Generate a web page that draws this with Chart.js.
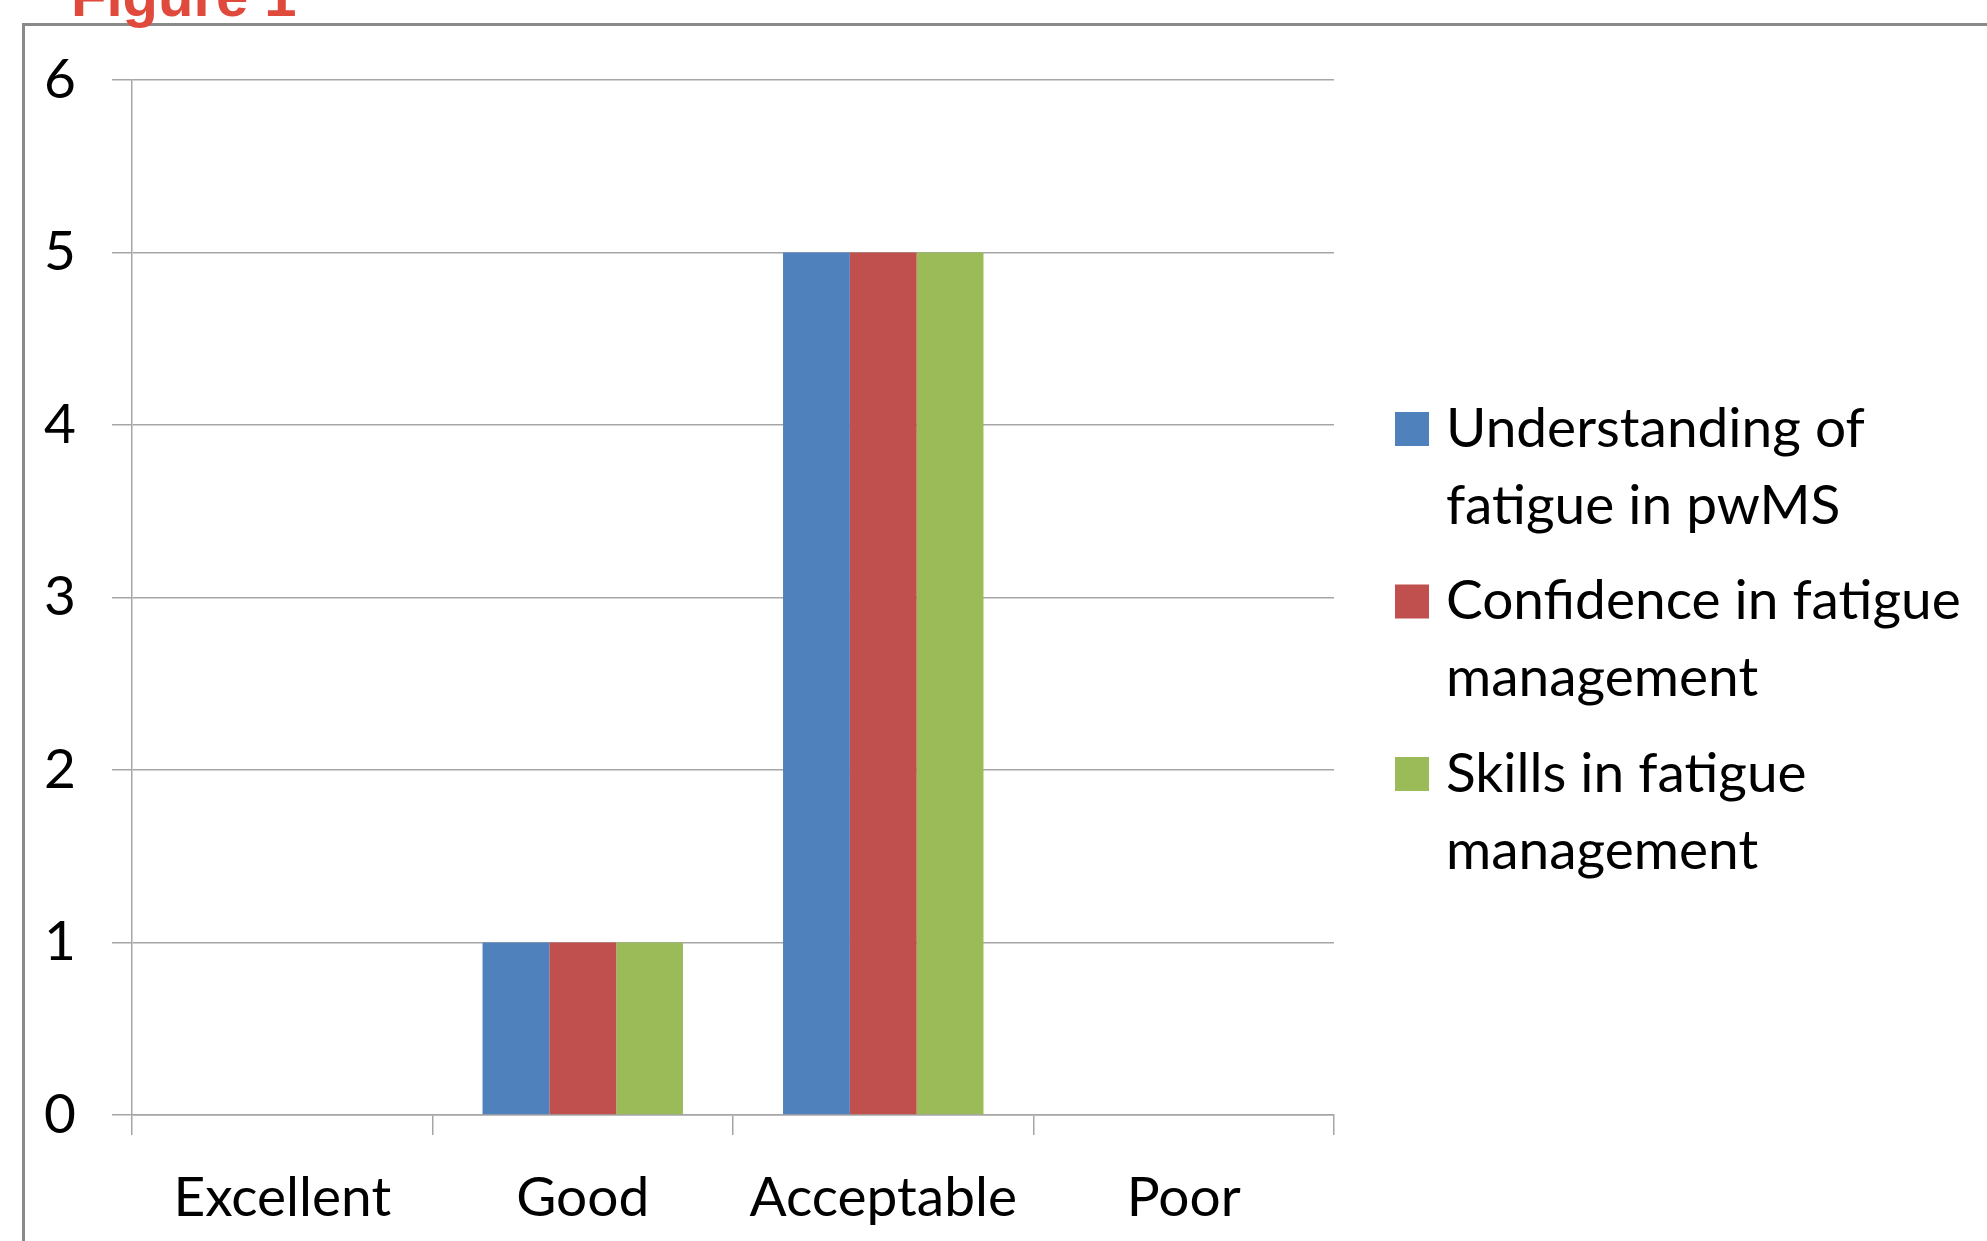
<!DOCTYPE html>
<html>
<head>
<meta charset="utf-8">
<script src="https://cdn.jsdelivr.net/npm/chart.js@4/dist/chart.umd.min.js"></script>
<style>
    html, body { margin: 0; padding: 0; background: #fff; overflow: hidden; }
    #wrap { position: relative; width: 1987px; height: 1241px; }
    #frame {
        position: absolute; left: 22px; top: 23px; width: 2100px; height: 1400px;
        border-top: 3px solid #8a8a8a; border-left: 3px solid #8a8a8a;
    }
    #fig {
        position: absolute; left: 71px; top: -38px;
        font: bold 58px "Liberation Sans", Arial, sans-serif; color: #e04a3d;
        white-space: nowrap;
    }
    canvas { position: absolute; left: 0; top: 0; }
</style>
</head>
<body>
<div id="wrap">
    <div id="frame"></div>
    <div id="fig">Figure 1</div>
    <canvas id="graph" width="1987" height="1241"></canvas>
</div>
<script>
    // ratings per category
    const categories = ['Excellent', 'Good', 'Acceptable', 'Poor'];

    const understanding = [0, 1, 5, 0];
    const confidence = [0, 1, 5, 0];
    const skills = [0, 1, 5, 0];

    const yTicks = [0, 1, 2, 3, 4, 5, 6];

    // legend text is wrapped over two lines like in the original
    const legendLines = [
        ['Understanding of', 'fatigue in pwMS'],
        ['Confidence in fatigue', 'management'],
        ['Skills in fatigue', 'management']
    ];

    const colors = ['#4f81bd', '#c0504d', '#9bbb59'];
    const font = 'Lato, "Open Sans", sans-serif';
    const fontSize = 55;
    const gridColor = '#a6a6a6';

    // draws the wrapped legend to the right of the plot
    const sideLegend = {
        id: 'sideLegend',
        afterDraw(chart) {
            const ctx = chart.ctx;
            ctx.save();
            ctx.font = fontSize + 'px ' + font;
            ctx.textBaseline = 'middle';
            ctx.textAlign = 'left';
            chart.data.datasets.forEach(function (ds, i) {
                let top = 412 + i * 172.5;
                ctx.fillStyle = ds.backgroundColor;
                ctx.fillRect(1395, top, 34, 34);
                ctx.fillStyle = '#000';
                ds.lines.forEach(function (line, j) {
                    ctx.fillText(line, 1446, top + 17 + j * 77);
                });
            });
            ctx.restore();
        }
    };

    const series = [understanding, confidence, skills];

    let chart = new Chart(document.getElementById('graph').getContext('2d'), {
        type: 'bar',
        data: {
            labels: categories,
            datasets: series.map(function (values, i) {
                return {
                    label: legendLines[i].join(' '),
                    lines: legendLines[i],
                    data: values,
                    backgroundColor: colors[i],
                    borderWidth: 0,
                    categoryPercentage: 0.667,
                    barPercentage: 1
                };
            })
        },
        options: {
            responsive: false,
            animation: false,
            layout: {padding: {left: 0, top: 80, right: 653, bottom: 0}},
            plugins: {
                legend: {display: false},
                tooltip: {enabled: false}
            },
            scales: {
                x: {
                    grid: {display: true, drawOnChartArea: false, drawTicks: true, tickLength: 20, color: gridColor, lineWidth: 1.5, offset: true},
                    border: {display: true, color: gridColor, width: 1.5},
                    ticks: {color: '#000', font: {family: font, size: fontSize}, padding: 30, maxRotation: 0},
                    afterFit: function (scale) { scale.height = 126; }
                },
                y: {
                    min: 0,
                    max: 6,
                    afterBuildTicks: function (scale) {
                        scale.ticks = yTicks.map(function (v) { return {value: v}; });
                    },
                    grid: {color: gridColor, lineWidth: 1.5, drawTicks: true, tickLength: 20},
                    border: {display: true, color: gridColor, width: 1.5},
                    ticks: {color: '#000', font: {family: font, size: fontSize}, padding: 36},
                    afterFit: function (scale) { scale.width = 132; }
                }
            }
        },
        plugins: [sideLegend]
    });
</script>
</body>
</html>
